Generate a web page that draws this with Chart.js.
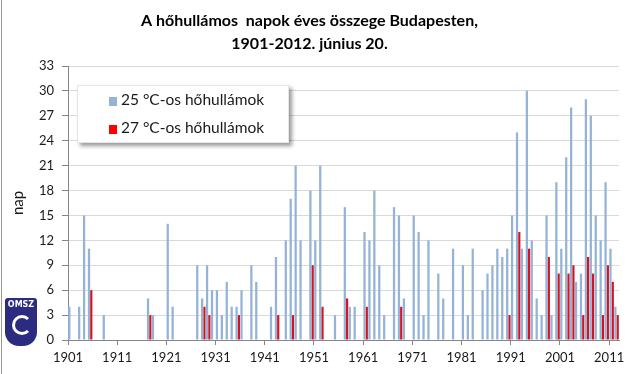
<!DOCTYPE html>
<html>
<head>
<meta charset="utf-8">
<script src="https://cdn.jsdelivr.net/npm/chart.js@4.4.0/dist/chart.umd.min.js"></script>
<style>
  html, body { margin: 0; padding: 0; background: #fff; }
  #wrap { position: relative; width: 640px; height: 374px; overflow: hidden; }
  #edge { position: absolute; left: 1px; top: 0; width: 1px; height: 374px; background: #999; }
  #legend {
    position: absolute; left: 77px; top: 85px; width: 210px; height: 56px;
    background: #fff; border: 1px solid #e6e6e6;
    box-shadow: 3px 3px 4px rgba(0,0,0,0.4);
    font-family: Lato, sans-serif; font-size: 15.5px; color: #1a1a1a;
  }
  .item { position: absolute; left: 31px; height: 20px; line-height: 20px; white-space: nowrap; }
  .item span.box { display: inline-block; width: 8px; height: 9px; margin-right: 4px; vertical-align: -1px; }
  #logo {
    position: absolute; left: 5px; top: 298px; width: 32px; height: 48px;
    background: #2b2b80; border-radius: 3px 3px 14px 14px;
    color: #fff; font-family: 'DejaVu Sans', sans-serif; font-weight: bold;
    font-size: 8px; text-align: center; line-height: 14px;
  }
  #logo i { position: absolute; left: 7px; top: 17px; width: 14px; height: 14px;
    border: 3px solid #fff; border-radius: 50%; border-right-color: transparent; }
</style>
</head>
<body>
<div id="wrap">
  <canvas id="chart" width="640" height="374"></canvas>
  <div id="edge"></div>
  <div id="legend"></div>
  <div id="logo">OMSZ<i></i></div>
</div>
<script>
// éves hőhullámos napok, 1901-2012
const firstYear = 1901;

const heat25 = [
  4, 0, 4, 15, 11, 0, 0, 3, 0, 0,        // 1901-1910
  0, 0, 0, 0, 0, 0, 5, 3, 0, 0,          // 1911-1920
  14, 4, 0, 0, 0, 0, 9, 5, 9, 6,         // 1921-1930
  6, 3, 7, 4, 4, 6, 0, 9, 7, 0,          // 1931-1940
  0, 4, 10, 0, 12, 17, 21, 12, 0, 18,    // 1941-1950
  12, 21, 0, 0, 3, 0, 16, 4, 4, 0,       // 1951-1960
  13, 12, 18, 9, 3, 0, 16, 15, 5, 0,     // 1961-1970
  15, 13, 3, 12, 0, 8, 5, 0, 11, 0,      // 1971-1980
  9, 3, 11, 0, 6, 8, 9, 11, 10, 11,      // 1981-1990
  15, 25, 11, 30, 12, 5, 3, 15, 3, 19,   // 1991-2000
  11, 22, 28, 7, 8, 29, 27, 15, 12, 19,  // 2001-2010
  11, 4                                  // 2011-2012
];

const heat27 = [
  0, 0, 0, 0, 6, 0, 0, 0, 0, 0,
  0, 0, 0, 0, 0, 0, 3, 0, 0, 0,
  0, 0, 0, 0, 0, 0, 0, 4, 3, 0,
  0, 0, 0, 0, 3, 0, 0, 0, 0, 0,
  0, 0, 3, 0, 0, 3, 0, 0, 0, 9,
  0, 4, 0, 0, 0, 0, 5, 0, 0, 0,
  4, 0, 0, 0, 0, 0, 0, 4, 0, 0,
  0, 0, 0, 0, 0, 0, 0, 0, 0, 0,
  0, 0, 0, 0, 0, 0, 0, 0, 0, 3,
  0, 13, 0, 11, 0, 0, 0, 10, 0, 8,
  0, 8, 9, 0, 3, 10, 8, 0, 3, 9,
  7, 3
];

const yearTicks = [1901, 1911, 1921, 1931, 1941, 1951, 1961, 1971, 1981, 1991, 2001, 2011];
const dayTicks = [0, 3, 6, 9, 12, 15, 18, 21, 24, 27, 30, 33];

const seriesNames = ['25 °C-os hőhullámok', '27 °C-os hőhullámok'];
const seriesColors = ['#95b3d7', '#d7141e'];
const legendColors = ['#95b3d7', '#ff0000'];

const titleLines = ['A hőhullámos  napok éves összege Budapesten,', '1901-2012. június 20.'];

function toPoints(values) {
  // bar sits in the middle of its year slot
  return values.map((v, i) => ({ x: firstYear + i + 0.5, y: v }));
}

const tickFont = { family: "'Liberation Sans Narrow', Lato, sans-serif", size: 13 };

const ctx = document.getElementById('chart').getContext('2d');

new Chart(ctx, {
  type: 'bar',
  data: {
    datasets: [
      {
        label: seriesNames[0],
        data: toPoints(heat25),
        backgroundColor: seriesColors[0],
        borderWidth: 0,
        categoryPercentage: 0.92,
        barPercentage: 1.0
      },
      {
        label: seriesNames[1],
        data: toPoints(heat27),
        backgroundColor: seriesColors[1],
        borderWidth: 0,
        categoryPercentage: 0.92,
        barPercentage: 1.0
      }
    ]
  },
  options: {
    responsive: false,
    animation: false,
    layout: { padding: { left: 0, right: 21, top: 0, bottom: 0 } },
    scales: {
      x: {
        type: 'linear',
        min: 1901,
        max: 2013,
        offset: false,
        afterBuildTicks: function(scale) {
          scale.ticks = yearTicks.map(v => ({ value: v }));
        },
        afterFit: function(scale) { scale.height = 34; },
        ticks: {
          autoSkip: false,
          maxRotation: 0,
          padding: 5,
          color: '#1a1a1a',
          font: tickFont,
          callback: function(value) { return String(value); }
        },
        grid: {
          display: true,
          offset: false,
          drawOnChartArea: false,
          drawTicks: true,
          tickLength: 5,
          tickColor: '#868686'
        },
        border: { display: true, color: '#868686' }
      },
      y: {
        min: 0,
        max: 33,
        afterBuildTicks: function(scale) {
          scale.ticks = dayTicks.map(v => ({ value: v }));
        },
        afterFit: function(scale) { scale.width = 68; },
        ticks: {
          padding: 8,
          color: '#1a1a1a',
          font: tickFont
        },
        grid: {
          color: '#d9d9d9',
          tickColor: '#868686',
          tickLength: 6
        },
        border: { display: true, color: '#868686' },
        title: {
          display: true,
          text: 'nap',
          color: '#1a1a1a',
          font: { family: 'Lato, sans-serif', size: 15, lineHeight: 1.2 },
          padding: { top: 9, bottom: 0 }
        }
      }
    },
    plugins: {
      legend: { display: false },
      tooltip: { enabled: false },
      title: {
        display: true,
        text: titleLines,
        color: '#000',
        font: { family: 'Lato, sans-serif', size: 16, weight: 'bold', lineHeight: 1.4 },
        padding: { top: 10, bottom: 11.2 }
      }
    }
  }
});

// legend box drawn as html, with a shadow like the original
const legendEl = document.getElementById('legend');
seriesNames.forEach(function(name, i) {
  const row = document.createElement('div');
  row.className = 'item';
  row.style.top = (i === 0 ? 3 : 31) + 'px';
  row.innerHTML = '<span class="box" style="background:' + legendColors[i] + '"></span>' + name;
  legendEl.appendChild(row);
});
</script>
</body>
</html>
